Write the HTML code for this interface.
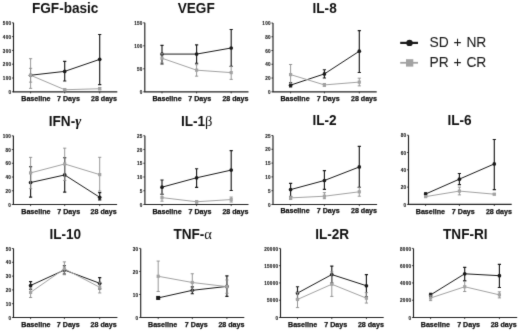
<!DOCTYPE html>
<html><head><meta charset="utf-8"><style>
html,body{margin:0;padding:0;background:#fff;width:520px;height:332px;overflow:hidden}
svg{display:block}
text{font-family:"Liberation Sans", sans-serif}
.t{font-size:13.6px;font-weight:bold;text-anchor:middle;fill:#111}
.gk{font-weight:normal;font-family:"Liberation Serif",serif;font-size:14.5px}
.gki{font-weight:bold;font-style:italic;font-family:"Liberation Serif",serif;font-size:14.5px}
.xl{font-size:7.1px;font-weight:bold;text-anchor:middle;fill:#111;stroke:#111;stroke-width:0.25px}
.yl{font-size:4.6px;letter-spacing:0.22px;font-weight:bold;text-anchor:end;fill:#1a1a1a;stroke:#1a1a1a;stroke-width:0.12px}
.lg{font-size:13.8px;fill:#1a1a1a;word-spacing:1px;stroke:#1a1a1a;stroke-width:0.06px}
.ax{fill:none;stroke:#222;stroke-width:1.15}
.tk{fill:none;stroke:#1a1a1a;stroke-width:0.8}
.sb{fill:none;stroke:#1a1a1a;stroke-width:1.0}
.sbe{fill:none;stroke:#1a1a1a;stroke-width:1.15}
.sg{fill:none;stroke:#a2a2a2;stroke-width:1}
.sge{fill:none;stroke:#8c8c8c;stroke-width:0.9}
.mb{fill:#1a1a1a}
.mg{fill:#a2a2a2}
</style></head><body>
<svg width="520" height="332" viewBox="0 0 520 332">
<defs><filter id="b" color-interpolation-filters="sRGB" x="0" y="0" width="520" height="332" filterUnits="userSpaceOnUse"><feConvolveMatrix order="3" kernelMatrix="0.01000 0.08000 0.01000 0.08000 0.64000 0.08000 0.01000 0.08000 0.01000" divisor="1" edgeMode="duplicate" preserveAlpha="true"/></filter></defs>
<rect width="520" height="332" fill="#fff"/>
<g filter="url(#b)">
<rect width="520" height="332" fill="#fff"/>
<g><text transform="translate(65.2 12.8) scale(1 1.04)" class="t">FGF-basic</text><path d="M13.5 22.8V91.8H117.3" class="ax"/><path d="M11.9 91.8H13.5" class="tk"/><text x="11.2" y="93.9" class="yl">0</text><path d="M11.9 78H13.5" class="tk"/><text x="11.2" y="80.1" class="yl">100</text><path d="M11.9 64.2H13.5" class="tk"/><text x="11.2" y="66.3" class="yl">200</text><path d="M11.9 50.4H13.5" class="tk"/><text x="11.2" y="52.5" class="yl">300</text><path d="M11.9 36.6H13.5" class="tk"/><text x="11.2" y="38.7" class="yl">400</text><path d="M11.9 22.8H13.5" class="tk"/><text x="11.2" y="24.9" class="yl">500</text><path d="M30.6 91.8v1.6" class="tk"/><path d="M64.7 91.8v1.6" class="tk"/><path d="M99.7 91.8v1.6" class="tk"/><text x="35.9" y="100.9" class="xl">Baseline</text><text x="68.5" y="100.9" class="xl">7 Days</text><text x="104" y="100.9" class="xl">28 days</text><path d="M30.6 75.24 L64.7 71.38 L99.7 59.37" class="sb"/><path d="M30.6 68.34V82.14M29 68.34h3.2M29 82.14h3.2" class="sge"/><circle cx="30.6" cy="75.24" r="1.85" class="mb"/><path d="M64.7 61.44V81.04M63.1 61.44h3.2M63.1 81.04h3.2" class="sbe"/><circle cx="64.7" cy="71.38" r="1.85" class="mb"/><path d="M99.7 34.53V84.62M98.1 34.53h3.2M98.1 84.62h3.2" class="sbe"/><circle cx="99.7" cy="59.37" r="1.85" class="mb"/><path d="M30.6 75.24 L64.7 89.73 L99.7 88.76" class="sg"/><path d="M30.6 58.68V88.35M29 58.68h3.2M29 88.35h3.2" class="sge"/><rect x="29" y="73.64" width="3.2" height="3.2" class="mg"/><path d="M64.7 88.76V90.7M63.1 88.76h3.2M63.1 90.7h3.2" class="sge"/><rect x="63.1" y="88.13" width="3.2" height="3.2" class="mg"/><path d="M99.7 87.66V89.73M98.1 87.66h3.2M98.1 89.73h3.2" class="sge"/><rect x="98.1" y="87.16" width="3.2" height="3.2" class="mg"/></g>
<g><text transform="translate(196.2 12.8) scale(1 1.04)" class="t">VEGF</text><path d="M144.8 22.8V91.8H248.5" class="ax"/><path d="M143.2 91.8H144.8" class="tk"/><text x="142.5" y="93.9" class="yl">0</text><path d="M143.2 68.8H144.8" class="tk"/><text x="142.5" y="70.9" class="yl">50</text><path d="M143.2 45.8H144.8" class="tk"/><text x="142.5" y="47.9" class="yl">100</text><path d="M143.2 22.8H144.8" class="tk"/><text x="142.5" y="24.9" class="yl">150</text><path d="M162 91.8v1.6" class="tk"/><path d="M196.6 91.8v1.6" class="tk"/><path d="M231.2 91.8v1.6" class="tk"/><text x="167" y="100.9" class="xl">Baseline</text><text x="199.75" y="100.9" class="xl">7 Days</text><text x="235.4" y="100.9" class="xl">28 days</text><path d="M162 54.08 L196.6 54.08 L231.2 48.01" class="sb"/><path d="M162 45.34V63.97M160.4 45.34h3.2M160.4 63.97h3.2" class="sbe"/><circle cx="162" cy="54.08" r="1.85" class="mb"/><path d="M196.6 44.88V63.28M195 44.88h3.2M195 63.28h3.2" class="sbe"/><circle cx="196.6" cy="54.08" r="1.85" class="mb"/><path d="M231.2 29.52V66.32M229.6 29.52h3.2M229.6 66.32h3.2" class="sbe"/><circle cx="231.2" cy="48.01" r="1.85" class="mb"/><path d="M162 58.22 L196.6 70.18 L231.2 72.62" class="sg"/><path d="M162 53.62V62.82M160.4 53.62h3.2M160.4 62.82h3.2" class="sge"/><rect x="160.4" y="56.62" width="3.2" height="3.2" class="mg"/><path d="M196.6 64.66V76.16M195 64.66h3.2M195 76.16h3.2" class="sge"/><rect x="195" y="68.58" width="3.2" height="3.2" class="mg"/><path d="M231.2 66.5V79.38M229.6 66.5h3.2M229.6 79.38h3.2" class="sge"/><rect x="229.6" y="71.02" width="3.2" height="3.2" class="mg"/></g>
<g><text transform="translate(324.6 12.8) scale(1 1.04)" class="t">IL-8</text><path d="M273 23V91.8H376.7" class="ax"/><path d="M271.4 91.8H273" class="tk"/><text x="270.7" y="93.9" class="yl">0</text><path d="M271.4 78.04H273" class="tk"/><text x="270.7" y="80.14" class="yl">20</text><path d="M271.4 64.28H273" class="tk"/><text x="270.7" y="66.38" class="yl">40</text><path d="M271.4 50.52H273" class="tk"/><text x="270.7" y="52.62" class="yl">60</text><path d="M271.4 36.76H273" class="tk"/><text x="270.7" y="38.86" class="yl">80</text><path d="M271.4 23H273" class="tk"/><text x="270.7" y="25.1" class="yl">100</text><path d="M290.6 91.8v1.6" class="tk"/><path d="M324.4 91.8v1.6" class="tk"/><path d="M359.3 91.8v1.6" class="tk"/><text x="295" y="100.9" class="xl">Baseline</text><text x="328.2" y="100.9" class="xl">7 Days</text><text x="364" y="100.9" class="xl">28 days</text><path d="M290.6 85.13 L324.4 73.91 L359.3 51.21" class="sb"/><path d="M290.6 82.72V86.85M289 82.72h3.2M289 86.85h3.2" class="sbe"/><circle cx="290.6" cy="85.13" r="1.85" class="mb"/><path d="M324.4 69.78V78.04M322.8 69.78h3.2M322.8 78.04h3.2" class="sbe"/><circle cx="324.4" cy="73.91" r="1.85" class="mb"/><path d="M359.3 30.57V72.54M357.7 30.57h3.2M357.7 72.54h3.2" class="sbe"/><circle cx="359.3" cy="51.21" r="1.85" class="mb"/><path d="M290.6 74.6 L324.4 84.92 L359.3 82.1" class="sg"/><path d="M290.6 64.49V83.54M289 64.49h3.2M289 83.54h3.2" class="sge"/><rect x="289" y="73" width="3.2" height="3.2" class="mg"/><path d="M324.4 83.54V86.3M322.8 83.54h3.2M322.8 86.3h3.2" class="sge"/><rect x="322.8" y="83.32" width="3.2" height="3.2" class="mg"/><path d="M359.3 78.18V85.88M357.7 78.18h3.2M357.7 85.88h3.2" class="sge"/><rect x="357.7" y="80.5" width="3.2" height="3.2" class="mg"/></g>
<g><text transform="translate(65 125.9) scale(1 1.04)" class="t">IFN-<tspan class="gki">γ</tspan></text><path d="M13.4 135.8V204.5H117.1" class="ax"/><path d="M11.8 204.5H13.4" class="tk"/><text x="11.1" y="206.6" class="yl">0</text><path d="M11.8 190.76H13.4" class="tk"/><text x="11.1" y="192.86" class="yl">20</text><path d="M11.8 177.02H13.4" class="tk"/><text x="11.1" y="179.12" class="yl">40</text><path d="M11.8 163.28H13.4" class="tk"/><text x="11.1" y="165.38" class="yl">60</text><path d="M11.8 149.54H13.4" class="tk"/><text x="11.1" y="151.64" class="yl">80</text><path d="M11.8 135.8H13.4" class="tk"/><text x="11.1" y="137.9" class="yl">100</text><path d="M30.6 204.5v1.6" class="tk"/><path d="M64.7 204.5v1.6" class="tk"/><path d="M99.7 204.5v1.6" class="tk"/><text x="35.9" y="213.5" class="xl">Baseline</text><text x="68.7" y="213.5" class="xl">7 Days</text><text x="103.6" y="213.5" class="xl">28 days</text><path d="M30.6 182.52 L64.7 174.96 L99.7 197.29" class="sb"/><path d="M30.6 166.72V197.15M29 166.72h3.2M29 197.15h3.2" class="sbe"/><circle cx="30.6" cy="182.52" r="1.85" class="mb"/><path d="M64.7 157.78V192.13M63.1 157.78h3.2M63.1 192.13h3.2" class="sbe"/><circle cx="64.7" cy="174.96" r="1.85" class="mb"/><path d="M99.7 192.61V199.9M98.1 192.61h3.2M98.1 199.9h3.2" class="sbe"/><circle cx="99.7" cy="197.29" r="1.85" class="mb"/><path d="M30.6 172.9 L64.7 163.97 L99.7 174.62" class="sg"/><path d="M30.6 157.37V188.7M29 157.37h3.2M29 188.7h3.2" class="sge"/><rect x="29" y="171.3" width="3.2" height="3.2" class="mg"/><path d="M64.7 148.17V180.46M63.1 148.17h3.2M63.1 180.46h3.2" class="sge"/><rect x="63.1" y="162.37" width="3.2" height="3.2" class="mg"/><path d="M99.7 157.3V191.1M98.1 157.3h3.2M98.1 191.1h3.2" class="sge"/><rect x="98.1" y="173.02" width="3.2" height="3.2" class="mg"/></g>
<g><text transform="translate(196.65 125.9) scale(1 1.04)" class="t">IL-1<tspan class="gk">β</tspan></text><path d="M144.9 135.7V204.5H248.5" class="ax"/><path d="M143.3 204.5H144.9" class="tk"/><text x="142.6" y="206.6" class="yl">0</text><path d="M143.3 190.74H144.9" class="tk"/><text x="142.6" y="192.84" class="yl">5</text><path d="M143.3 176.98H144.9" class="tk"/><text x="142.6" y="179.08" class="yl">10</text><path d="M143.3 163.22H144.9" class="tk"/><text x="142.6" y="165.32" class="yl">15</text><path d="M143.3 149.46H144.9" class="tk"/><text x="142.6" y="151.56" class="yl">20</text><path d="M143.3 135.7H144.9" class="tk"/><text x="142.6" y="137.8" class="yl">25</text><path d="M162 204.5v1.6" class="tk"/><path d="M196.6 204.5v1.6" class="tk"/><path d="M231.2 204.5v1.6" class="tk"/><text x="167" y="213.5" class="xl">Baseline</text><text x="200" y="213.5" class="xl">7 Days</text><text x="235.4" y="213.5" class="xl">28 days</text><path d="M162 187.16 L196.6 177.81 L231.2 170.1" class="sb"/><path d="M162 180.01V194.32M160.4 180.01h3.2M160.4 194.32h3.2" class="sbe"/><circle cx="162" cy="187.16" r="1.85" class="mb"/><path d="M196.6 168.72V187.44M195 168.72h3.2M195 187.44h3.2" class="sbe"/><circle cx="196.6" cy="177.81" r="1.85" class="mb"/><path d="M231.2 150.56V190.46M229.6 150.56h3.2M229.6 190.46h3.2" class="sbe"/><circle cx="231.2" cy="170.1" r="1.85" class="mb"/><path d="M162 197.62 L196.6 201.75 L231.2 199.55" class="sg"/><path d="M162 194.04V201.2M160.4 194.04h3.2M160.4 201.2h3.2" class="sge"/><rect x="160.4" y="196.02" width="3.2" height="3.2" class="mg"/><path d="M196.6 200.65V203.12M195 200.65h3.2M195 203.12h3.2" class="sge"/><rect x="195" y="200.15" width="3.2" height="3.2" class="mg"/><path d="M231.2 197.07V202.02M229.6 197.07h3.2M229.6 202.02h3.2" class="sge"/><rect x="229.6" y="197.95" width="3.2" height="3.2" class="mg"/></g>
<g><text transform="translate(324.5 125.3) scale(1 1.04)" class="t">IL-2</text><path d="M273 135.5V204.5H377.1" class="ax"/><path d="M271.4 204.5H273" class="tk"/><text x="270.7" y="206.6" class="yl">0</text><path d="M271.4 190.7H273" class="tk"/><text x="270.7" y="192.8" class="yl">5</text><path d="M271.4 176.9H273" class="tk"/><text x="270.7" y="179" class="yl">10</text><path d="M271.4 163.1H273" class="tk"/><text x="270.7" y="165.2" class="yl">15</text><path d="M271.4 149.3H273" class="tk"/><text x="270.7" y="151.4" class="yl">20</text><path d="M271.4 135.5H273" class="tk"/><text x="270.7" y="137.6" class="yl">25</text><path d="M290.6 204.5v1.6" class="tk"/><path d="M324.4 204.5v1.6" class="tk"/><path d="M359.3 204.5v1.6" class="tk"/><text x="295" y="213.3" class="xl">Baseline</text><text x="328.2" y="213.3" class="xl">7 Days</text><text x="364" y="213.3" class="xl">28 days</text><path d="M290.6 189.6 L324.4 180.49 L359.3 166.96" class="sb"/><path d="M290.6 183.39V196.5M289 183.39h3.2M289 196.5h3.2" class="sbe"/><circle cx="290.6" cy="189.6" r="1.85" class="mb"/><path d="M324.4 170.55V189.32M322.8 170.55h3.2M322.8 189.32h3.2" class="sbe"/><circle cx="324.4" cy="180.49" r="1.85" class="mb"/><path d="M359.3 146.4V187.39M357.7 146.4h3.2M357.7 187.39h3.2" class="sbe"/><circle cx="359.3" cy="166.96" r="1.85" class="mb"/><path d="M290.6 197.88 L324.4 196.22 L359.3 191.8" class="sg"/><path d="M290.6 196.22V199.53M289 196.22h3.2M289 199.53h3.2" class="sge"/><rect x="289" y="196.28" width="3.2" height="3.2" class="mg"/><path d="M324.4 192.63V198.7M322.8 192.63h3.2M322.8 198.7h3.2" class="sge"/><rect x="322.8" y="194.62" width="3.2" height="3.2" class="mg"/><path d="M359.3 187.39V196.22M357.7 187.39h3.2M357.7 196.22h3.2" class="sge"/><rect x="357.7" y="190.2" width="3.2" height="3.2" class="mg"/></g>
<g><text transform="translate(459.55 125.2) scale(1 1.04)" class="t">IL-6</text><path d="M408.5 135.2V204.4H511.7" class="ax"/><path d="M406.9 204.4H408.5" class="tk"/><text x="406.2" y="206.5" class="yl">0</text><path d="M406.9 187.1H408.5" class="tk"/><text x="406.2" y="189.2" class="yl">20</text><path d="M406.9 169.8H408.5" class="tk"/><text x="406.2" y="171.9" class="yl">40</text><path d="M406.9 152.5H408.5" class="tk"/><text x="406.2" y="154.6" class="yl">60</text><path d="M406.9 135.2H408.5" class="tk"/><text x="406.2" y="137.3" class="yl">80</text><path d="M425.6 204.4v1.6" class="tk"/><path d="M459.4 204.4v1.6" class="tk"/><path d="M494.3 204.4v1.6" class="tk"/><text x="430.4" y="213.5" class="xl">Baseline</text><text x="463.3" y="213.5" class="xl">7 Days</text><text x="498.9" y="213.5" class="xl">28 days</text><path d="M425.6 194.02 L459.4 179.14 L494.3 163.92" class="sb"/><path d="M425.6 192.81V195.23M424 192.81h3.2M424 195.23h3.2" class="sbe"/><circle cx="425.6" cy="194.02" r="1.85" class="mb"/><path d="M459.4 173.52V184.68M457.8 173.52h3.2M457.8 184.68h3.2" class="sbe"/><circle cx="459.4" cy="179.14" r="1.85" class="mb"/><path d="M494.3 139.52V189.69M492.7 139.52h3.2M492.7 189.69h3.2" class="sbe"/><circle cx="494.3" cy="163.92" r="1.85" class="mb"/><path d="M425.6 196.62 L459.4 191.08 L494.3 194.19" class="sg"/><path d="M425.6 195.75V197.48M424 195.75h3.2M424 197.48h3.2" class="sge"/><rect x="424" y="195.02" width="3.2" height="3.2" class="mg"/><path d="M459.4 187.1V194.88M457.8 187.1h3.2M457.8 194.88h3.2" class="sge"/><rect x="457.8" y="189.48" width="3.2" height="3.2" class="mg"/><path d="M494.3 193.5V194.88M492.7 193.5h3.2M492.7 194.88h3.2" class="sge"/><rect x="492.7" y="192.59" width="3.2" height="3.2" class="mg"/></g>
<g><text transform="translate(65.25 238.6) scale(1 1.04)" class="t">IL-10</text><path d="M13.5 248.5V317.5H117.4" class="ax"/><path d="M11.9 317.5H13.5" class="tk"/><text x="11.2" y="319.6" class="yl">0</text><path d="M11.9 303.7H13.5" class="tk"/><text x="11.2" y="305.8" class="yl">10</text><path d="M11.9 289.9H13.5" class="tk"/><text x="11.2" y="292" class="yl">20</text><path d="M11.9 276.1H13.5" class="tk"/><text x="11.2" y="278.2" class="yl">30</text><path d="M11.9 262.3H13.5" class="tk"/><text x="11.2" y="264.4" class="yl">40</text><path d="M11.9 248.5H13.5" class="tk"/><text x="11.2" y="250.6" class="yl">50</text><path d="M30.6 317.5v1.6" class="tk"/><path d="M64.4 317.5v1.6" class="tk"/><path d="M99.7 317.5v1.6" class="tk"/><text x="35.9" y="326.6" class="xl">Baseline</text><text x="68.3" y="326.6" class="xl">7 Days</text><text x="103.6" y="326.6" class="xl">28 days</text><path d="M30.6 285.48 L64.4 270.03 L99.7 283.28" class="sb"/><path d="M30.6 281.62V289.21M29 281.62h3.2M29 289.21h3.2" class="sbe"/><circle cx="30.6" cy="285.48" r="1.85" class="mb"/><path d="M64.4 265.75V274.03M62.8 265.75h3.2M62.8 274.03h3.2" class="sbe"/><circle cx="64.4" cy="270.03" r="1.85" class="mb"/><path d="M99.7 277.62V288.93M98.1 277.62h3.2M98.1 288.93h3.2" class="sbe"/><circle cx="99.7" cy="283.28" r="1.85" class="mb"/><path d="M30.6 292.38 L64.4 268.79 L99.7 287.28" class="sg"/><path d="M30.6 287.83V297.49M29 287.83h3.2M29 297.49h3.2" class="sge"/><rect x="29" y="290.78" width="3.2" height="3.2" class="mg"/><path d="M64.4 261.89V274.72M62.8 261.89h3.2M62.8 274.72h3.2" class="sge"/><rect x="62.8" y="267.19" width="3.2" height="3.2" class="mg"/><path d="M99.7 282.31V292.94M98.1 282.31h3.2M98.1 292.94h3.2" class="sge"/><rect x="98.1" y="285.68" width="3.2" height="3.2" class="mg"/></g>
<g><text transform="translate(192.7 238.6) scale(1 1.04)" class="t">TNF-<tspan class="gk">α</tspan></text><path d="M140.7 248.4V317.5H244.3" class="ax"/><path d="M139.1 317.5H140.7" class="tk"/><text x="138.4" y="319.6" class="yl">0</text><path d="M139.1 294.47H140.7" class="tk"/><text x="138.4" y="296.57" class="yl">10</text><path d="M139.1 271.43H140.7" class="tk"/><text x="138.4" y="273.53" class="yl">20</text><path d="M139.1 248.4H140.7" class="tk"/><text x="138.4" y="250.5" class="yl">30</text><path d="M158.2 317.5v1.6" class="tk"/><path d="M192.3 317.5v1.6" class="tk"/><path d="M226.9 317.5v1.6" class="tk"/><text x="162.65" y="326.6" class="xl">Baseline</text><text x="196.3" y="326.6" class="xl">7 Days</text><text x="231.4" y="326.6" class="xl">28 days</text><path d="M158.2 297.92 L192.3 290.32 L226.9 286.41" class="sb"/><path d="M158.2 297V298.84M156.6 297h3.2M156.6 298.84h3.2" class="sbe"/><rect x="156.2" y="295.92" width="4" height="4" class="mb"/><path d="M192.3 286.87V293.78M190.7 286.87h3.2M190.7 293.78h3.2" class="sbe"/><circle cx="192.3" cy="290.32" r="1.85" class="mb"/><path d="M226.9 275.81V296.31M225.3 275.81h3.2M225.3 296.31h3.2" class="sbe"/><circle cx="226.9" cy="286.41" r="1.85" class="mb"/><path d="M158.2 276.27 L192.3 282.49 L226.9 286.64" class="sg"/><path d="M158.2 261.07V291.47M156.6 261.07h3.2M156.6 291.47h3.2" class="sge"/><rect x="156.6" y="274.67" width="3.2" height="3.2" class="mg"/><path d="M192.3 273.74V291.24M190.7 273.74h3.2M190.7 291.24h3.2" class="sge"/><rect x="190.7" y="280.89" width="3.2" height="3.2" class="mg"/><path d="M226.9 279.96V293.31M225.3 279.96h3.2M225.3 293.31h3.2" class="sge"/><rect x="225.3" y="285.04" width="3.2" height="3.2" class="mg"/></g>
<g><text transform="translate(332.2 238.6) scale(1 1.04)" class="t">IL-2R</text><path d="M280.5 248.4V317.5H383.7" class="ax"/><path d="M278.9 317.5H280.5" class="tk"/><text x="278.2" y="319.6" class="yl">0</text><path d="M278.9 300.23H280.5" class="tk"/><text x="278.2" y="302.33" class="yl">5000</text><path d="M278.9 282.95H280.5" class="tk"/><text x="278.2" y="285.05" class="yl">10000</text><path d="M278.9 265.68H280.5" class="tk"/><text x="278.2" y="267.78" class="yl">15000</text><path d="M278.9 248.4H280.5" class="tk"/><text x="278.2" y="250.5" class="yl">20000</text><path d="M297.5 317.5v1.6" class="tk"/><path d="M331.8 317.5v1.6" class="tk"/><path d="M366.4 317.5v1.6" class="tk"/><text x="302.65" y="326.6" class="xl">Baseline</text><text x="335.75" y="326.6" class="xl">7 Days</text><text x="370.95" y="326.6" class="xl">28 days</text><path d="M297.5 293.11 L331.8 274.55 L366.4 285.75" class="sb"/><path d="M297.5 286.75V299.19M295.9 286.75h3.2M295.9 299.19h3.2" class="sbe"/><circle cx="297.5" cy="293.11" r="1.85" class="mb"/><path d="M331.8 266.19V282.95M330.2 266.19h3.2M330.2 282.95h3.2" class="sbe"/><circle cx="331.8" cy="274.55" r="1.85" class="mb"/><path d="M366.4 274.66V296.77M364.8 274.66h3.2M364.8 296.77h3.2" class="sbe"/><circle cx="366.4" cy="285.75" r="1.85" class="mb"/><path d="M297.5 299.46 L331.8 284.23 L366.4 298.19" class="sg"/><path d="M297.5 292.62V307.58M295.9 292.62h3.2M295.9 307.58h3.2" class="sge"/><rect x="295.9" y="297.86" width="3.2" height="3.2" class="mg"/><path d="M331.8 271.89V296.42M330.2 271.89h3.2M330.2 296.42h3.2" class="sge"/><rect x="330.2" y="282.63" width="3.2" height="3.2" class="mg"/><path d="M366.4 292.62V303.06M364.8 292.62h3.2M364.8 303.06h3.2" class="sge"/><rect x="364.8" y="296.59" width="3.2" height="3.2" class="mg"/></g>
<g><text transform="translate(465.3 238.6) scale(1 1.04)" class="t">TNF-RI</text><path d="M413.5 248.4V317.5H517.2" class="ax"/><path d="M411.9 317.5H413.5" class="tk"/><text x="411.2" y="319.6" class="yl">0</text><path d="M411.9 300.23H413.5" class="tk"/><text x="411.2" y="302.33" class="yl">2000</text><path d="M411.9 282.95H413.5" class="tk"/><text x="411.2" y="285.05" class="yl">4000</text><path d="M411.9 265.68H413.5" class="tk"/><text x="411.2" y="267.78" class="yl">6000</text><path d="M411.9 248.4H413.5" class="tk"/><text x="411.2" y="250.5" class="yl">8000</text><path d="M430.6 317.5v1.6" class="tk"/><path d="M464.7 317.5v1.6" class="tk"/><path d="M499.4 317.5v1.6" class="tk"/><text x="435.4" y="326.6" class="xl">Baseline</text><text x="468.6" y="326.6" class="xl">7 Days</text><text x="503.7" y="326.6" class="xl">28 days</text><path d="M430.6 294.9 L464.7 273.8 L499.4 275.7" class="sb"/><path d="M430.6 293.23V296.6M429 293.23h3.2M429 296.6h3.2" class="sbe"/><circle cx="430.6" cy="294.9" r="1.85" class="mb"/><path d="M464.7 267.3V280.6M463.1 267.3h3.2M463.1 280.6h3.2" class="sbe"/><circle cx="464.7" cy="273.8" r="1.85" class="mb"/><path d="M499.4 264.3V287.5M497.8 264.3h3.2M497.8 287.5h3.2" class="sbe"/><circle cx="499.4" cy="275.7" r="1.85" class="mb"/><path d="M430.6 298.01 L464.7 286.75 L499.4 294.87" class="sg"/><path d="M430.6 295.39V300.61M429 295.39h3.2M429 300.61h3.2" class="sge"/><rect x="429" y="296.41" width="3.2" height="3.2" class="mg"/><path d="M464.7 281.21V291.5M463.1 281.21h3.2M463.1 291.5h3.2" class="sge"/><rect x="463.1" y="285.15" width="3.2" height="3.2" class="mg"/><path d="M499.4 291.85V297.89M497.8 291.85h3.2M497.8 297.89h3.2" class="sge"/><rect x="497.8" y="293.27" width="3.2" height="3.2" class="mg"/></g>
<g>
<path d="M400.2 42.9H418" stroke="#1a1a1a" stroke-width="2.2"/><circle cx="409.5" cy="42.9" r="3.2" fill="#1a1a1a"/>
<text x="429.5" y="47.3" class="lg">SD + NR</text>
<path d="M400.2 62.8H418" stroke="#a2a2a2" stroke-width="1.8"/><rect x="406" y="59.2" width="7.3" height="7.4" fill="#a2a2a2"/>
<text x="429.5" y="66.7" class="lg">PR + CR</text>
</g>
</g>
</svg>
</body></html>
